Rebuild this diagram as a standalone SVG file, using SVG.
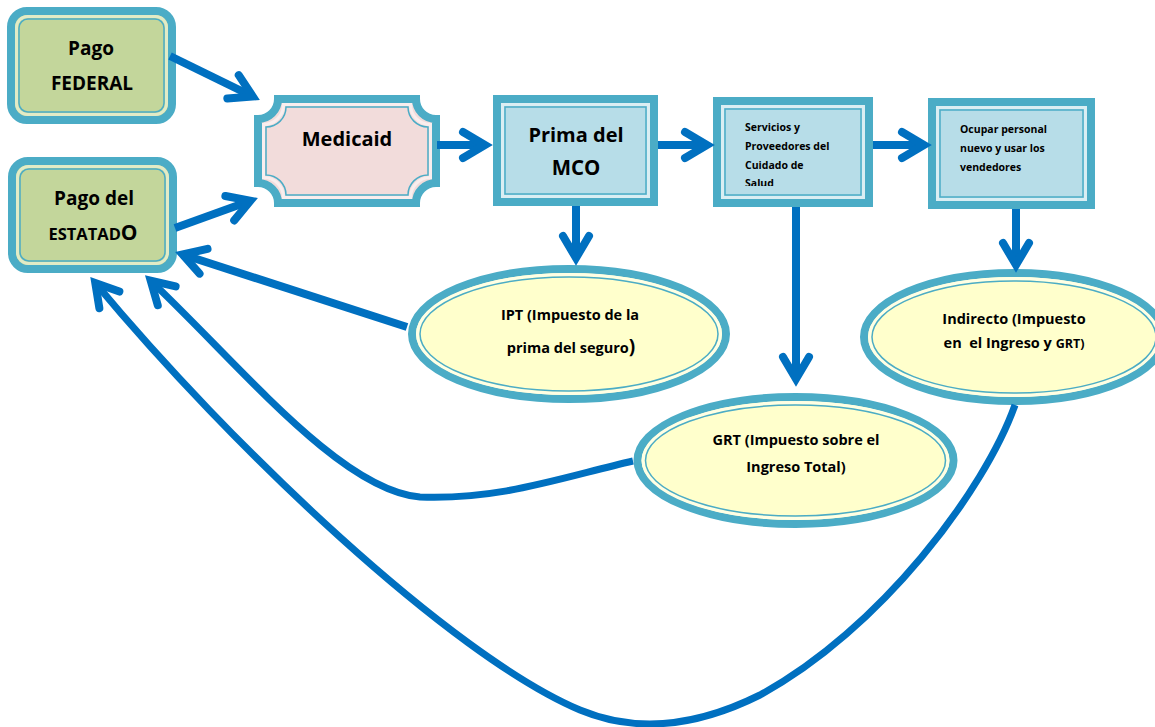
<svg xmlns="http://www.w3.org/2000/svg" width="1155" height="727" viewBox="0 0 1155 727">
  <style>
    .band { stroke: #4BACC6; stroke-width: 8; }
    .line { fill: none; stroke: #4BACC6; stroke-width: 1.5; }
    .sg { fill: none; stroke: #E2EBC6; stroke-width: 3; }
    .sb { fill: none; stroke: #DAEEF3; stroke-width: 3; }
    .sp { fill: none; stroke: #F9EEEE; stroke-width: 3; }
    .sy { fill: none; stroke: #FFFFE4; stroke-width: 3; }
    .green { fill: #C3D69B; }
    .blue { fill: #B7DDE8; }
    .pink { fill: #F2DCDB; }
    .yellow { fill: #FFFFCC; }
    text { font-family: "Open Sans", "Noto Sans", "Liberation Sans", sans-serif; font-weight: 700; fill: #000; }
    .c { text-anchor: middle; }
    .big { font-size: 19px; }
    .mid { font-size: 14.5px; }
    .small { font-size: 10.5px; }
    .conn { fill: none; stroke: #0070C0; stroke-width: 8; marker-end: url(#chev); }
    .curve { fill: none; stroke: #0070C0; stroke-width: 7; marker-end: url(#chev); }
  </style>
  <defs>
    <marker id="chev" markerUnits="userSpaceOnUse" orient="auto" viewBox="-40 -25 60 50" markerWidth="60" markerHeight="50" refX="0" refY="0" overflow="visible">
      <path d="M-22,-13 L0,0 L-22,13" fill="none" stroke="#0070C0" stroke-width="8" stroke-linecap="round" stroke-linejoin="miter" stroke-miterlimit="10"/>
    </marker>
    <clipPath id="clipServ">
      <rect x="725" y="109" width="136" height="77"/>
    </clipPath>
  </defs>
  <rect width="1155" height="727" fill="#FFFFFF"/>

  <g id="pago-federal">
    <rect class="band green" x="11" y="11" width="161" height="109" rx="16"/>
    <rect class="sg" x="16.5" y="16.5" width="150" height="98" rx="11"/>
    <rect class="line" x="19" y="19" width="145" height="93" rx="9"/>
    <text class="c big" x="91" y="55">Pago</text>
    <text class="c big" x="92" y="90">FEDERAL</text>
  </g>

  <g id="pago-estado">
    <rect class="band green" x="12" y="161" width="161" height="108" rx="16"/>
    <rect class="sg" x="17.5" y="166.5" width="150" height="97" rx="11"/>
    <rect class="line" x="20" y="169" width="145" height="92" rx="9"/>
    <text class="c big" x="94" y="205">Pago del</text>
    <text class="c" x="93" y="240" style="font-size:16.5px">ESTATAD<tspan style="font-size:21px">O</tspan></text>
  </g>

  <g id="medicaid">
    <path class="band pink" d="M278,99 H416 A20,20 0 0 0 436,119 V183 A20,20 0 0 0 416,203 H278 A20,20 0 0 0 258,183 V119 A20,20 0 0 0 278,99 Z"/>
    <path class="sp" d="M283.5,104.5 H410.5 A20,20 0 0 0 430.5,124.5 V177.5 A20,20 0 0 0 410.5,197.5 H283.5 A20,20 0 0 0 263.5,177.5 V124.5 A20,20 0 0 0 283.5,104.5 Z"/>
    <path class="line" d="M286,107 H408 A20,20 0 0 0 428,127 V175 A20,20 0 0 0 408,195 H286 A20,20 0 0 0 266,175 V127 A20,20 0 0 0 286,107 Z"/>
    <text class="c" x="347" y="146" style="font-size:20px">Medicaid</text>
  </g>

  <g id="prima-mco">
    <rect class="band blue" x="497" y="99" width="157" height="103"/>
    <rect class="sb" x="502.5" y="104.5" width="146" height="92"/>
    <rect class="line" x="505" y="107" width="141" height="87"/>
    <text class="c" x="576" y="142" style="font-size:20px">Prima del</text>
    <text class="c" x="576" y="175" style="font-size:20.5px">MCO</text>
  </g>

  <g id="servicios">
    <rect class="band blue" x="717" y="101" width="152" height="102"/>
    <rect class="sb" x="722.5" y="106.5" width="141" height="91"/>
    <rect class="line" x="725" y="109" width="136" height="86"/>
    <g clip-path="url(#clipServ)">
      <text class="small" x="745" y="131">Servicios y</text>
      <text class="small" x="745" y="150">Proveedores del</text>
      <text class="small" x="745" y="168.5">Cuidado de</text>
      <text class="small" x="745" y="187">Salud</text>
    </g>
  </g>

  <g id="ocupar">
    <rect class="band blue" x="932" y="102" width="159" height="103"/>
    <rect class="sb" x="937.5" y="107.5" width="148" height="92"/>
    <rect class="line" x="940" y="110" width="143" height="87"/>
    <text class="small" x="960" y="133">Ocupar personal</text>
    <text class="small" x="960" y="152">nuevo y usar los</text>
    <text class="small" x="960" y="171">vendedores</text>
  </g>

  <g id="ipt">
    <ellipse class="band yellow" cx="569" cy="334" rx="157" ry="65"/>
    <ellipse class="sy" cx="569" cy="334" rx="151.5" ry="59.5"/>
    <ellipse class="line" cx="569" cy="334" rx="149" ry="57"/>
    <text class="c mid" x="570" y="320">IPT (Impuesto de la</text>
    <text class="c mid" x="571" y="353">prima del seguro<tspan style="font-size:19px">)</tspan></text>
  </g>

  <g id="grt">
    <ellipse class="band yellow" cx="795.5" cy="460.5" rx="158" ry="63.5"/>
    <ellipse class="sy" cx="795.5" cy="460.5" rx="152.5" ry="58"/>
    <ellipse class="line" cx="795.5" cy="460.5" rx="150" ry="55.5"/>
    <text class="c mid" x="796" y="445">GRT (Impuesto sobre el</text>
    <text class="c mid" x="796" y="472">Ingreso Total)</text>
  </g>

  <g id="indirecto">
    <ellipse class="band yellow" cx="1014" cy="337" rx="150" ry="64"/>
    <ellipse class="sy" cx="1014" cy="337" rx="144.5" ry="58.5"/>
    <ellipse class="line" cx="1014" cy="337" rx="142" ry="56"/>
    <text class="c mid" x="1014" y="324">Indirecto (Impuesto</text>
    <text class="c mid" x="1014" y="348" xml:space="preserve" style="white-space:pre">en  el Ingreso y <tspan style="font-size:12.5px">GRT)</tspan></text>
  </g>

  <g id="connectors">
    <path class="conn" d="M170,56 L252.8,96.5"/>
    <path class="conn" d="M175,228 L250.5,200.7"/>
    <path class="conn" d="M437,145 L485,145"/>
    <path class="conn" d="M658,145 L707,145"/>
    <path class="conn" d="M873,145 L924,145"/>
    <path class="conn" d="M576,206 L576,258"/>
    <path class="conn" d="M796,207 L796,379"/>
    <path class="conn" d="M1016,209 L1016,265"/>
    <path class="conn" d="M407,327 L182.6,254.5"/>
    <path class="curve" d="M633,461 C560,478 500,500 420,497 C340,490 240,365 150.7,280.7"/>
    <path class="curve" d="M1015,405 C985,490 880,630 760,695 C700,725 640,735 580,710 C450,655 230,445 95.3,283"/>
  </g>
</svg>
